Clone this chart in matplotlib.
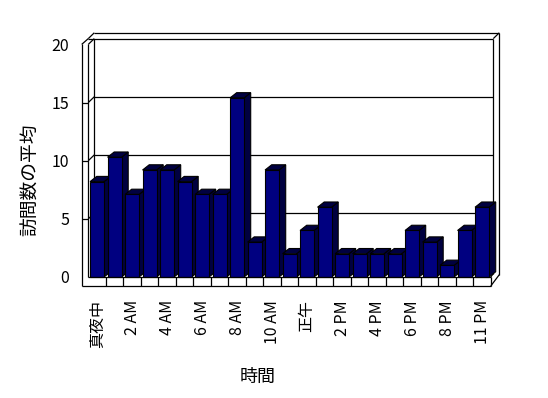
import matplotlib
matplotlib.use('Agg')
import matplotlib.pyplot as plt
from matplotlib.patches import Polygon

plt.rcParams['font.family'] = ['Noto Sans CJK JP', 'DejaVu Sans']

# ---- data ----
hours = ["真夜中", "1 AM", "2 AM", "3 AM", "4 AM", "5 AM", "6 AM", "7 AM",
         "8 AM", "9 AM", "10 AM", "11 AM", "正午", "1 PM", "2 PM", "3 PM",
         "4 PM", "5 PM", "6 PM", "7 PM", "8 PM", "9 PM", "11 PM"]
visits = [8.2, 10.3, 7.1, 9.2, 9.2, 8.2, 7.1, 7.1, 15.4, 3.0, 9.2, 2.0,
          4.0, 6.0, 2.0, 2.0, 2.0, 2.0, 4.0, 3.0, 1.0, 4.0, 6.0]
yticks = [0, 5, 10, 15, 20]
x_label = "時間"
y_label = "訪問数の平均"

n = len(visits)

fig = plt.figure(figsize=(5.48, 3.98), dpi=100)
ax = fig.add_axes([75 / 548, 103 / 398, 435 / 548, 270 / 398])
ax.set_xlim(-1.26, 23.597)
ax.set_ylim(-1.548, 21.668)
for s in ax.spines.values():
    s.set_visible(False)
ax.set_facecolor('none')

LW = 0.9


def seg(xs, ys, z=1):
    ax.plot(xs, ys, color='black', lw=LW, solid_capstyle='butt', zorder=z)


# ---- 3D frame geometry (data units) ----
XL = -0.5
XR = n - 0.5
T = 0.377      # left wall thickness
DX = 0.343     # depth offset x
DY = 0.5       # depth offset y
XRB = XR + 0.143
XRO = XR + 0.486
FT = 0.77      # floor thickness
YT = yticks[-1]

# back wall
seg([XL + DX, XL + DX], [DY, YT + DY])
for y in yticks[1:-1]:
    seg([XL + DX, XRB], [y + DY, y + DY])
seg([XL, XRB], [YT + DY, YT + DY])
seg([XRB, XRB], [DY * 0.6, YT + DY])
seg([XL + DX, XRO], [YT + 2 * DY, YT + 2 * DY])
seg([XL, XL + DX], [YT + DY, YT + 2 * DY])
seg([XRB, XRO], [YT + DY, YT + 2 * DY])
seg([XRO, XRO], [YT + 2 * DY, 0.2])
seg([XRO, XR], [0.2, -FT])

# left wall
seg([XL - T, XL - T], [-FT, YT])
seg([XL, XL], [0, YT])
seg([XL - T, XL], [YT, YT + DY])
seg([XL, XL + DX], [YT, YT + DY])
for y in yticks[1:-1]:
    seg([XL - T, XL], [y, y])
    seg([XL, XL + DX], [y, y + DY])

# floor
seg([XL - T, XR], [-FT, -FT], z=4)
seg([XL, XR], [0, 0], z=4)
for k in range(1, n + 1):
    seg([k - 0.5, k - 0.5], [-FT, 0], z=4)
seg([XR, XRB], [0, DY * 0.6])

# ---- bars ----
BW = 0.8
BDX = 0.38
BDY = 0.45
for i, v in enumerate(visits):
    x0 = i - BW / 2
    x1 = i + BW / 2
    ax.add_patch(Polygon([(x1, 0), (x1 + BDX, BDY), (x1 + BDX, v + BDY), (x1, v)],
                         closed=True, fc='#000040', ec='black', lw=0.8, zorder=2))
    ax.add_patch(Polygon([(x0, v), (x0 + BDX, v + BDY), (x1 + BDX, v + BDY), (x1, v)],
                         closed=True, fc='#000040', ec='black', lw=0.8, zorder=2))
ax.bar(range(n), visits, width=BW, color='#000080', edgecolor='black',
       linewidth=0.8, zorder=3)

# ---- ticks & labels ----
ax.set_yticks(yticks)
ax.set_yticklabels([str(t) for t in yticks])
ax.tick_params(axis='y', length=0, pad=4.1, labelsize=11.5)
ax.set_xticks(range(0, n, 2))
ax.set_xticklabels(hours[::2], rotation=90)
ax.tick_params(axis='x', length=0, pad=3.6, labelsize=11.5)

ax.set_xlabel(x_label, fontsize=13)
ax.xaxis.set_label_coords(0.4207, -0.304)
ax.xaxis.label.set_va('center')
ax.set_ylabel(y_label, fontsize=13.5)
ax.yaxis.set_label_coords(-0.103, 0.426)
ax.yaxis.label.set_va('center')

fig.savefig('out.png', dpi=100)
